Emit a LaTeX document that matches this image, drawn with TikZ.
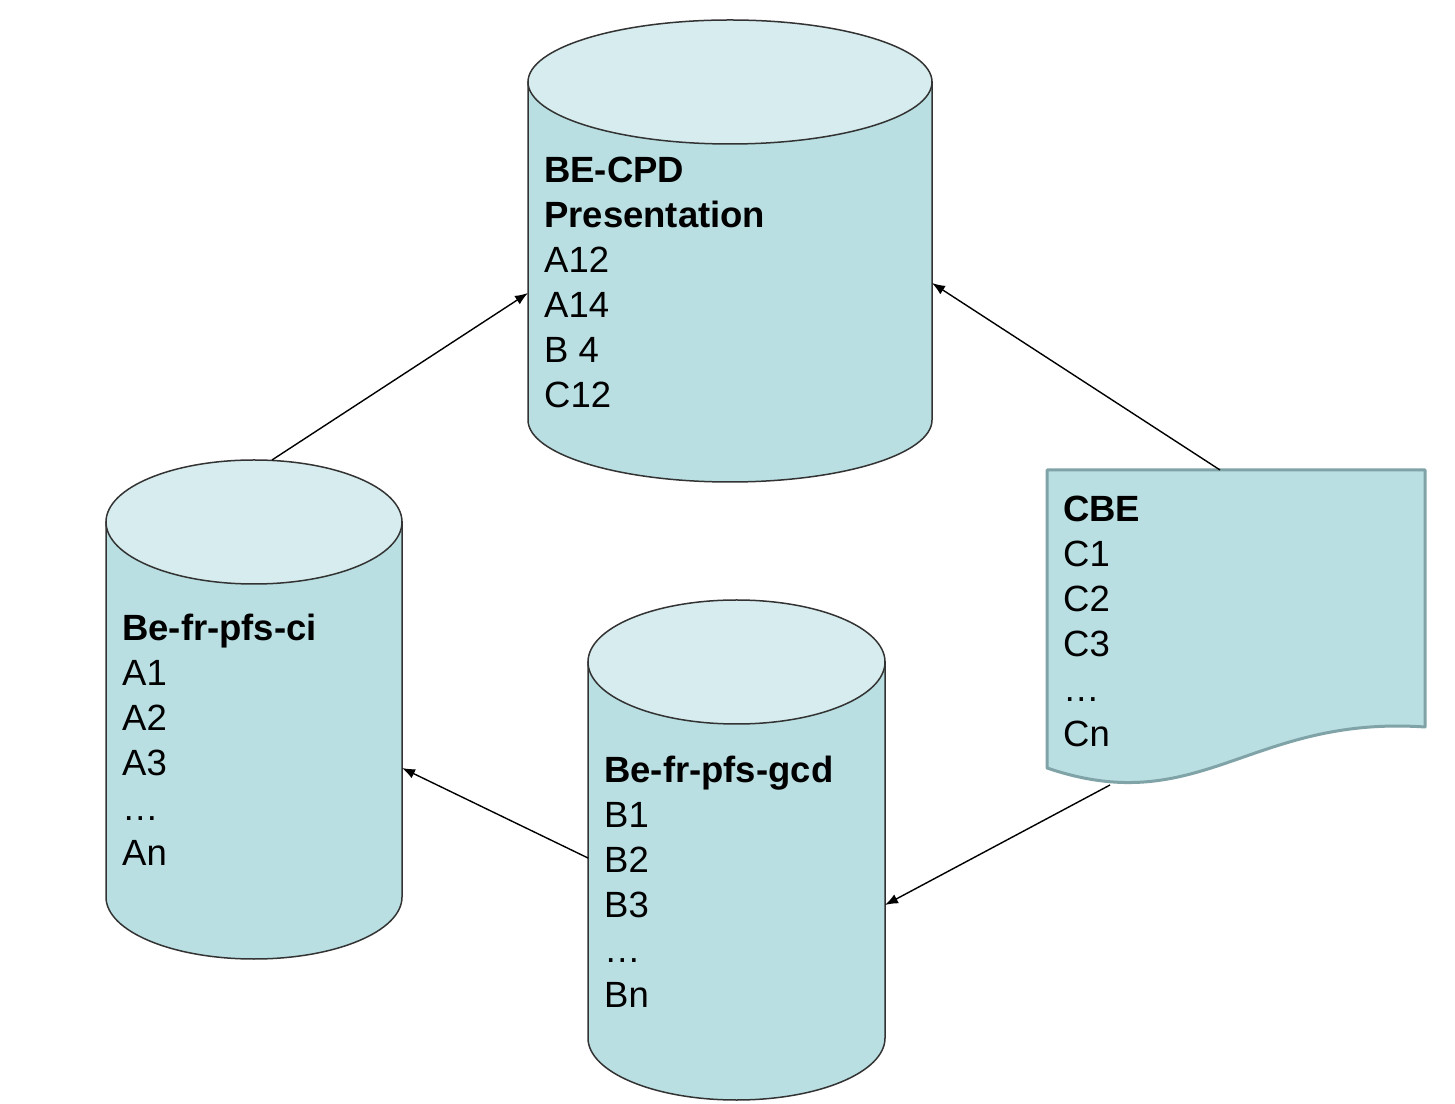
\documentclass[tikz,border=0pt]{standalone}
\usepackage{fontspec}
\setmainfont{Liberation Sans}
\usetikzlibrary{arrows.meta, calc}
\definecolor{cylside}{HTML}{B9DFE2}
\definecolor{cyltop}{HTML}{D6ECEE}
\definecolor{docline}{HTML}{7FA3A7}
\tikzset{%
	body/.style={draw=black!80, line width=1.5pt, fill=cylside},
	lid/.style={draw=black!80, line width=1.5pt, fill=cyltop},
	frame/.style={inner sep=0mm, outer sep=0mm, rectangle},
	doc/.style={draw=docline, line width=3pt, fill=cylside, line join=round},
	lst/.style={inner sep=0mm, anchor=north west, align=left,%
		font=\fontsize{36.5}{45}\selectfont},
	link/.style={-{Latex[length=13pt, width=10pt]}, line width=1.4pt}
}
\begin{document}
\begin{tikzpicture}[x=1pt, y=1pt]
	\useasboundingbox (0,0) rectangle (1455,1103);

	% cylinders
	\filldraw[body] (528,1021) -- (528,683) arc[start angle=180, end angle=360, x radius=202, y radius=62] -- (932,1021) -- cycle;
	\filldraw[lid] (730,1021) ellipse[x radius=202, y radius=62];
	\filldraw[body] (106,581) -- (106,206) arc[start angle=180, end angle=360, x radius=148, y radius=62] -- (402,581) -- cycle;
	\filldraw[lid] (254,581) ellipse[x radius=148, y radius=62];
	\filldraw[body] (588,441) -- (588,65) arc[start angle=180, end angle=360, x radius=148.5, y radius=62] -- (885,441) -- cycle;
	\filldraw[lid] (736.5,441) ellipse[x radius=148.5, y radius=62];

	% document
	\draw[doc] (1047,633) -- (1425,633) -- (1425,376) .. controls (1250,388) and (1200,283) .. (1047,335) -- cycle;

	\node[frame, minimum width=404pt, minimum height=463pt] (cpd) at (730,851.5) {};
	\node[frame, minimum width=296pt, minimum height=499pt] (ci) at (254,393.5) {};
	\node[frame, minimum width=297pt, minimum height=500pt] (gcd) at (736.5,253) {};
	\node[frame, minimum width=378pt, minimum height=315pt] (doc) at (1236,475.5) {};

	\node[lst] (cpdtxt) at (544,946) {\textbf{BE-CPD}\\\textbf{Presentation}\\A12\\A14\\B 4\\C12};
	\node[lst] (citxt) at (122,489) {\textbf{Be-fr-pfs-ci}\\A1\\A2\\A3\\…\\An};
	\node[lst] (gcdtxt) at (604,347) {\textbf{Be-fr-pfs-gcd}\\B1\\B2\\B3\\…\\Bn};
	\node[lst] (cbetxt) at (1063,607) {\textbf{CBE}\\C1\\C2\\C3\\…\\Cn};

	\draw[link] ([xshift=18pt]ci.north) -- ([yshift=-41.5pt]cpd.west);
	\draw[link] ([xshift=-16pt]doc.north) -- ([yshift=-31.5pt]cpd.east);
	\draw[link] ([yshift=-8pt]gcd.west) -- ([yshift=-58.5pt]ci.east);
	\draw[link] ([xshift=63pt]doc.south west) -- ([yshift=-55pt]gcd.east);
\end{tikzpicture}
\end{document}
